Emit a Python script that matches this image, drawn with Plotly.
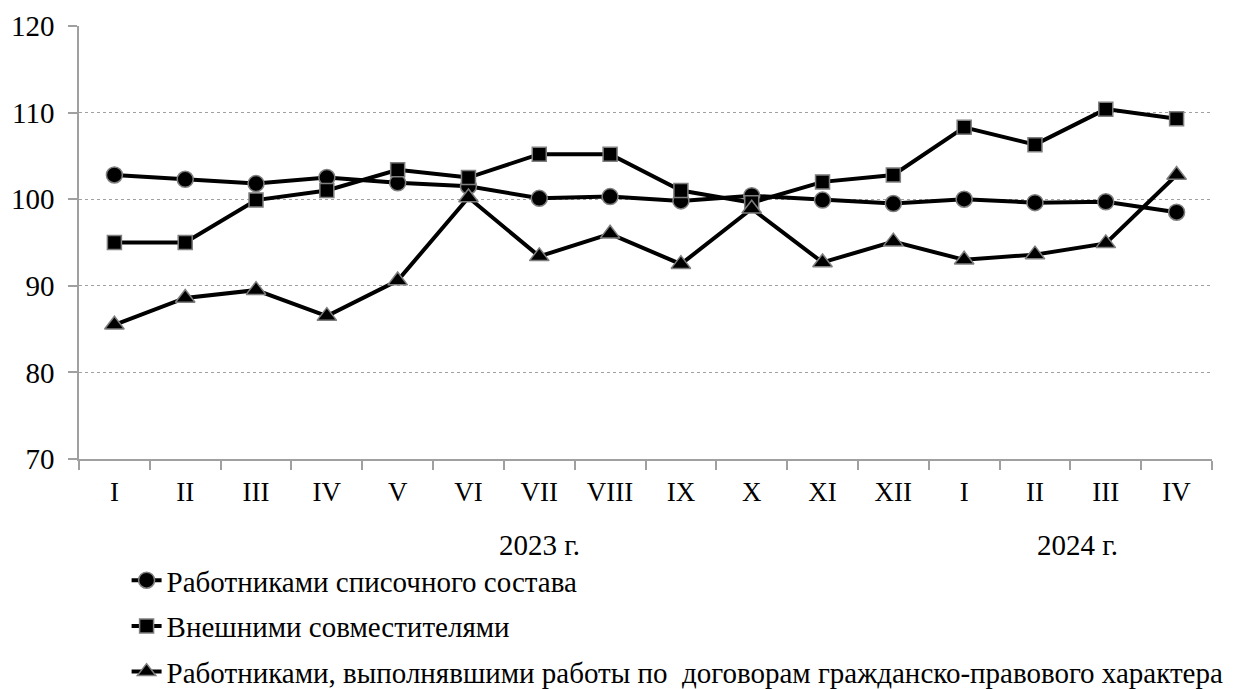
import plotly.graph_objects as go

months = ["I", "II", "III", "IV", "V", "VI", "VII", "VIII", "IX", "X", "XI", "XII",
          "I", "II", "III", "IV"]
listed_staff = [102.8, 102.3, 101.8, 102.5, 101.9, 101.5, 100.1, 100.3, 99.8, 100.4,
                99.9, 99.5, 100.0, 99.6, 99.7, 98.5]
external_part_time = [95.0, 95.0, 99.9, 101.0, 103.4, 102.5, 105.2, 105.2, 101.0, 99.6,
                      102.0, 102.8, 108.3, 106.3, 110.4, 109.3]
civil_contracts = [85.5, 88.6, 89.5, 86.5, 90.6, 100.2, 93.4, 96.0, 92.5, 98.9,
                   92.7, 95.1, 93.0, 93.6, 94.9, 102.8]
series_names = ["Работниками списочного состава",
                "Внешними совместителями",
                "Работниками, выполнявшими работы по  договорам гражданско-правового характера"]
year_labels = ["2023 г.", "2024 г."]
year_positions = [6, 13.6]

FONT = '"Liberation Serif", "Times New Roman", Times, "DejaVu Serif", serif'
FS = 29
xs = list(range(len(months)))

fig = go.Figure()
for name, vals, sym, size in [
    (series_names[0], listed_staff, "circle", 16),
    (series_names[1], external_part_time, "square", 14),
    (series_names[2], civil_contracts, "triangle-up", 17),
]:
    fig.add_trace(go.Scatter(
        x=xs, y=vals, name=name, mode="lines+markers",
        line=dict(color="black", width=4),
        marker=dict(symbol=sym, size=size, color="black",
                    line=dict(color="#7f7f7f", width=1.5)),
        legendgroup=name,
    ))

for lbl, pos in zip(year_labels, year_positions):
    fig.add_annotation(x=pos, y=-0.199, xref="x", yref="paper", text=lbl,
                       yanchor="middle", showarrow=False,
                       font=dict(family=FONT, size=FS, color="black"))

fig.update_layout(
    template="none",
    width=1243, height=689,
    margin=dict(l=79, r=31, t=26, b=230, autoexpand=False),
    plot_bgcolor="white", paper_bgcolor="white",
    font=dict(family=FONT, size=FS, color="black"),
    showlegend=True,
    legend=dict(x=0.042, y=-0.2214, xanchor="left", yanchor="top",
                traceorder="grouped", tracegroupgap=5,
                font=dict(family=FONT, size=FS, color="black"),
                bgcolor="rgba(0,0,0,0)"),
    xaxis=dict(range=[-0.5, 15.5], tickmode="array", tickvals=xs, ticktext=months,
               showgrid=False, zeroline=False, showline=True, linecolor="#a0a0a0",
               linewidth=1.5, ticks="", ticklabelstandoff=8,
               tickfont=dict(family=FONT, size=27, color="black"),
               minor=dict(ticks="outside", tick0=-0.5, dtick=1, ticklen=9,
                          tickcolor="#a0a0a0", tickwidth=1.5, showgrid=False)),
    yaxis=dict(range=[70, 120], dtick=10, tick0=70, showgrid=True, gridcolor="#a0a0a0",
               griddash="dot", gridwidth=1, zeroline=False, showline=True,
               linecolor="#a0a0a0", linewidth=1.5, ticks="outside", ticklen=9,
               tickcolor="#a0a0a0", tickwidth=1.5, ticklabelstandoff=8,
               tickfont=dict(family=FONT, size=FS, color="black")),
)

fig.write_html("out.html", config={"displayModeBar": False},
               post_script="document.body.style.margin='0';")
